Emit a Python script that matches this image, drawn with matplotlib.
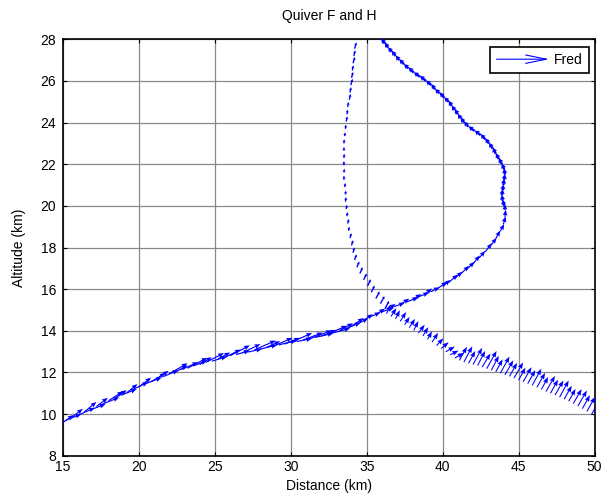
import matplotlib
matplotlib.use("Agg")
import matplotlib.pyplot as plt
from matplotlib.legend_handler import HandlerBase
from matplotlib.patches import FancyArrowPatch
from matplotlib.lines import Line2D

plt.rcParams['font.family'] = ['Liberation Sans', 'DejaVu Sans']

# ---------------- data ----------------
title = "Quiver F and H"
xlabel = "Distance (km)"
ylabel = "Altitude (km)"
legend_label = "Fred"
xticks = [15, 20, 25, 30, 35, 40, 45, 50]
yticks = [8, 10, 12, 14, 16, 18, 20, 22, 24, 26, 28]

# Track F (arrow tails and components, km) - lower/middle part
f_x = [14.8, 15.2, 15.6, 16.0, 16.4, 16.8, 17.2, 17.6, 18.0, 18.4, 18.8, 19.2, 19.6, 20.0, 20.4, 20.8,
       21.2, 21.6, 22.0, 22.4, 22.8, 23.2, 23.6, 24.0, 24.4, 24.8, 25.2, 25.6, 26.0, 26.4, 26.8, 27.2,
       27.6, 28.0, 28.4, 28.8, 29.2, 29.6, 30.0, 30.4, 30.8, 31.2, 31.6, 32.0, 32.4, 32.8, 33.2, 33.6,
       34.0, 34.4, 34.8,
       35.2, 35.6, 36.0, 36.4, 36.8, 37.2, 37.6, 38.0, 38.4, 38.8, 39.2, 39.6, 40.0, 40.4, 40.8, 41.2,
       41.6, 42.0, 42.4, 42.8, 43.2, 43.5, 43.8, 44.0, 44.1, 44.1]
f_y = [9.5, 9.7, 9.85, 9.95, 10.1, 10.2, 10.36, 10.48, 10.64, 10.75, 10.9, 11.02, 11.18, 11.3,
       11.45, 11.55, 11.7, 11.8, 11.94, 12.02, 12.14, 12.2, 12.32, 12.38, 12.48, 12.54, 12.64, 12.7,
       12.8, 12.86, 12.94, 12.98, 13.08, 13.12, 13.2, 13.24, 13.32, 13.36, 13.44, 13.48, 13.56, 13.6,
       13.68, 13.74, 13.84, 13.9, 14.01, 14.09, 14.23, 14.34, 14.5,
       14.66, 14.78, 14.91, 15.04, 15.16, 15.26, 15.38, 15.5, 15.63, 15.75, 15.87, 16.0, 16.14, 16.32,
       16.52, 16.74, 16.96, 17.22, 17.49, 17.79, 18.12, 18.44, 18.78, 19.12, 19.47, 19.8]
f_u = [0.9, 1.0, 0.7, 1.1, 0.8, 1.0, 0.75, 1.1, 0.95, 0.8, 1.05, 0.7, 1.0, 0.8, 1.1, 0.95, 0.75, 1.0,
       1.2, 0.8, 1.1, 1.3, 0.9, 0.8, 1.2, 1.0, 0.8, 1.1, 1.3, 0.9, 1.2, 0.9, 1.4, 1.1, 0.9, 1.3, 1.2,
       1.0, 1.4, 1.0, 1.3, 1.5, 1.2, 1.0, 1.3, 1.1, 0.9, 1.0, 0.8, 0.7, 0.6,
       0.7, 0.6, 0.8, 0.5, 0.7, 0.6, 0.8, 0.6, 0.7, 0.5, 0.6, 0.7, 0.5, 0.6, 0.5, 0.55, 0.5, 0.45, 0.4,
       0.45, 0.35, 0.3, 0.25, 0.15, 0.05, 0.0]
f_v = [0.45, 0.3, 0.4, 0.35, 0.48, 0.28, 0.42, 0.32, 0.45, 0.4, 0.3, 0.42, 0.35, 0.45, 0.3, 0.42,
       0.38, 0.3, 0.5, 0.32, 0.35, 0.5, 0.25, 0.35, 0.45, 0.22, 0.32, 0.4, 0.5, 0.18, 0.42, 0.15,
       0.45, 0.2, 0.3, 0.42, 0.22, 0.3, 0.45, 0.15, 0.35, 0.42, 0.2, 0.3, 0.4, 0.22, 0.35, 0.3, 0.38,
       0.25, 0.3,
       0.22, 0.28, 0.2, 0.25, 0.18, 0.28, 0.22, 0.26, 0.2, 0.28, 0.22, 0.35, 0.3, 0.38, 0.32, 0.38,
       0.35, 0.4, 0.35, 0.42, 0.35, 0.38, 0.35, 0.38, 0.35, 0.3]

# Track F - upper part (returning towards 36 km)
fu_x = [44.05, 43.95, 43.9, 43.95, 44.0, 44.05, 44.1, 44.05, 43.9, 43.7, 43.5, 43.3, 43.05, 42.8,
        42.5, 42.1, 41.7, 41.4, 41.2, 41.0, 40.8, 40.6, 40.4, 40.1, 39.8, 39.5, 39.25, 38.9, 38.5,
        38.1, 37.75, 37.45, 37.15, 36.9, 36.65, 36.4, 36.2, 35.95]
fu_y = [20.0, 20.25, 20.5, 20.75, 21.0, 21.25, 21.5, 21.75, 22.0, 22.25, 22.5, 22.75, 23.0, 23.2,
        23.4, 23.6, 23.8, 24.0, 24.2, 24.4, 24.6, 24.8, 25.0, 25.2, 25.4, 25.6, 25.8, 26.0, 26.2,
        26.4, 26.6, 26.8, 27.0, 27.2, 27.4, 27.6, 27.8, 28.0]
fu_u = [-0.1, -0.05, 0.05, 0.05, 0.05, 0.05, -0.05, -0.15, -0.2, -0.2, -0.2, -0.25, -0.25, -0.3,
        -0.4, -0.4, -0.3, -0.2, -0.2, -0.2, -0.2, -0.2, -0.3, -0.3, -0.3, -0.25, -0.35, -0.4, -0.4,
        -0.35, -0.3, -0.3, -0.25, -0.25, -0.25, -0.2, -0.25, -0.2]
fu_v = [0.3, 0.28, 0.3, 0.28, 0.3, 0.28, 0.3, 0.28, 0.3, 0.28, 0.3, 0.28, 0.25, 0.25, 0.22, 0.22,
        0.25, 0.25, 0.22, 0.25, 0.22, 0.25, 0.22, 0.25, 0.22, 0.25, 0.22, 0.25, 0.22, 0.25, 0.22,
        0.25, 0.22, 0.25, 0.22, 0.25, 0.22, 0.25]

# Track H - upper part (near 34 km)
h_x = [34.2, 34.15, 34.1, 34.05, 34.0, 33.95, 33.9, 33.85, 33.75, 33.7, 33.65, 33.6, 33.55, 33.5,
       33.5, 33.5, 33.5, 33.5, 33.5, 33.55, 33.6, 33.6, 33.65, 33.7, 33.75, 33.8, 33.9, 34.0, 34.1,
       34.2, 34.35, 34.55, 34.8, 35.05, 35.3, 35.6, 35.9, 36.2]
h_y = [27.55, 27.2, 26.85, 26.5, 26.15, 25.8, 25.45, 25.1, 24.75, 24.4, 24.05, 23.7, 23.35, 23.0,
       22.65, 22.3, 21.95, 21.6, 21.25, 20.9, 20.55, 20.2, 19.85, 19.5, 19.15, 18.8, 18.45, 18.1,
       17.75, 17.4, 17.05, 16.75, 16.45, 16.15, 15.85, 15.55, 15.3, 15.05]
h_u = [0.12, 0.09, 0.12, 0.07, 0.1, 0.12, 0.07, 0.09, 0.05, 0.04, 0.07, 0.03, 0.02, 0.02, 0.0, 0.02,
       0.0, 0.03, 0.0, 0.04, 0.02, 0.04, 0.05, 0.03, 0.07, 0.05, 0.09, 0.1, 0.09, 0.13, 0.16, 0.18,
       0.2, 0.22, 0.22, 0.25, 0.27, 0.27]
h_v = [0.3, 0.27, 0.3, 0.25, 0.28, 0.3, 0.25, 0.27, 0.24, 0.22, 0.25, 0.2, 0.18, 0.2, 0.18, 0.2,
       0.2, 0.18, 0.2, 0.2, 0.18, 0.22, 0.2, 0.2, 0.22, 0.2, 0.24, 0.25, 0.25, 0.27, 0.28, 0.3, 0.3,
       0.32, 0.32, 0.34, 0.36, 0.38]

# Track H - lower part (descending to 50 km)
hl_x = [36.3, 36.6, 36.9, 37.2, 37.5, 37.8, 38.1, 38.4, 38.7, 39.0, 39.3, 39.6, 39.9, 40.2, 40.5,
        40.8, 41.1, 41.4, 41.7, 42.0, 42.3, 42.6, 42.9, 43.2, 43.5, 43.8, 44.1, 44.4, 44.7, 45.0,
        45.3, 45.6, 45.9, 46.2, 46.5, 46.8, 47.1, 47.4, 47.7, 48.0, 48.3, 48.6, 48.9, 49.2, 49.5,
        49.8]
hl_y = [14.82, 14.69, 14.57, 14.45, 14.29, 14.15, 14.02, 13.89, 13.75, 13.59, 13.45, 13.29, 13.15,
        12.99, 12.85, 12.69, 12.58, 12.5, 12.43, 12.38, 12.33, 12.26, 12.18, 12.1, 12.03, 11.96,
        11.88, 11.81, 11.73, 11.63, 11.55, 11.46, 11.38, 11.28, 11.18, 11.08, 11.0, 10.91, 10.81,
        10.71, 10.61, 10.5, 10.38, 10.26, 10.13, 9.98]
hl_u = [0.3, 0.35, 0.28, 0.4, 0.32, 0.38, 0.3, 0.42, 0.35, 0.3, 0.4, 0.45, 0.5, 0.6, 0.55, 0.6,
        0.5, 0.55, 0.45, 0.6, 0.5, 0.55, 0.65, 0.5, 0.45, 0.6, 0.55, 0.5, 0.6, 0.45, 0.55, 0.5, 0.6,
        0.55, 0.45, 0.6, 0.5, 0.55, 0.6, 0.5, 0.45, 0.55, 0.6, 0.5, 0.55, 0.5]
hl_v = [0.45, 0.4, 0.42, 0.45, 0.38, 0.42, 0.45, 0.4, 0.42, 0.38, 0.45, 0.35, 0.3, 0.25, 0.2, 0.25,
        0.65, 0.75, 0.6, 0.8, 0.7, 0.65, 0.85, 0.7, 0.6, 0.8, 0.7, 0.65, 0.75, 0.6, 0.7, 0.65, 0.8,
        0.7, 0.6, 0.75, 0.65, 0.7, 0.8, 0.65, 0.6, 0.7, 0.75, 0.65, 0.7, 0.65]

# ---------------- plot ----------------
fig = plt.figure(figsize=(6.04, 5.0), dpi=100)
ax = fig.add_axes([0.1043, 0.0886, 0.88, 0.8328])

blue = '#0000ff'
qkw = dict(angles='xy', scale_units='xy', scale=1, color=blue, zorder=3)
ax.quiver(f_x, f_y, f_u, f_v, width=0.0022, headwidth=4, headlength=5, headaxislength=4.5, **qkw)
ax.quiver(fu_x, fu_y, fu_u, fu_v, width=0.0045, headwidth=2.2, headlength=2.0,
          headaxislength=1.8, **qkw)
ax.quiver(h_x, h_y, h_u, h_v, width=0.0026, headwidth=2.2, headlength=2.0, headaxislength=1.8, **qkw)
ax.quiver(hl_x, hl_y, hl_u, hl_v, width=0.0020, headwidth=4.5, headlength=6, headaxislength=5.5,
          **qkw)

ax.set_xlim(15, 50)
ax.set_ylim(8, 28)
ax.set_xticks(xticks)
ax.set_yticks(yticks)
ax.grid(True, color='#8a8a8a', linewidth=0.9, linestyle='-')
ax.set_axisbelow(True)
ax.tick_params(direction='in', length=3, width=0.8, top=True, right=True,
               labelsize=10)
ax.tick_params(axis='y', pad=5)
ax.tick_params(axis='x', pad=3)
for s in ax.spines.values():
    s.set_linewidth(1.2)
    s.set_color('black')

ax.set_title(title, fontsize=10, pad=14)
ax.set_xlabel(xlabel, fontsize=10, labelpad=4)
ax.set_ylabel(ylabel, fontsize=10, labelpad=10)


class ArrowHandler(HandlerBase):
    def create_artists(self, legend, orig_handle, xdescent, ydescent, width, height,
                       fontsize, trans):
        y = height / 2 - ydescent
        a = FancyArrowPatch((-xdescent, y), (-xdescent + width, y),
                            arrowstyle='->,head_length=15,head_width=3',
                            mutation_scale=1, color=blue, lw=0.8,
                            shrinkA=0, shrinkB=0, transform=trans)
        return [a]


proxy = Line2D([], [], color=blue)
leg = ax.legend([proxy], [legend_label], handler_map={Line2D: ArrowHandler()},
                loc='upper right', bbox_to_anchor=(0.99, 0.982), borderaxespad=0,
                fancybox=False, edgecolor='black', framealpha=1, fontsize=10,
                handlelength=3.8, handletextpad=0.35, borderpad=0.45)
leg.get_frame().set_linewidth(1.2)

fig.savefig('out.png', dpi=100)
